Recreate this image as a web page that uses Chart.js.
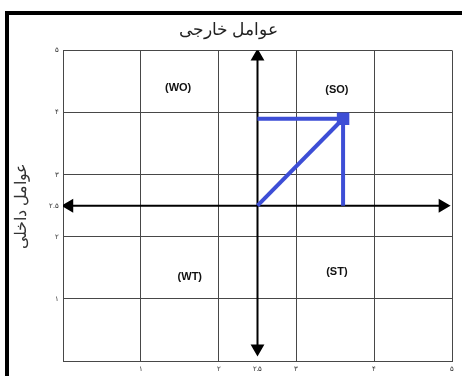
<!DOCTYPE html>
<html>
<head>
<meta charset="utf-8">
<script src="https://cdn.jsdelivr.net/npm/chart.js@4"></script>
<style>
  html, body { margin: 0; padding: 0; background: #fff; }
  #wrap { width: 462px; height: 376px; }
</style>
</head>
<body>
<div id="wrap"><canvas id="myChart" width="462" height="376"></canvas></div>
<script>
// tick values and their Persian labels
const tickValues = [0, 1, 2, 2.5, 3, 4, 5];
const tickLabels = ['', '۱', '۲', '۲.۵', '۳', '۴', '۵'];

// matrix scores
const midPoint = 2.5;
const internalScore = 3.6;   // IFE
const externalScore = 3.9;   // EFE

// quadrant names
const quadrants = ['(WO)', '(SO)', '(WT)', '(ST)'];

const blue = '#3d4ed6';

function labelFor(v) {
  const i = tickValues.indexOf(v);
  return i >= 0 ? tickLabels[i] : '';
}

const framePlugin = {
  id: 'frame',
  beforeDraw(chart) {
    const c = chart.ctx;
    c.save();
    c.fillStyle = '#fff';
    c.fillRect(0, 0, chart.width, chart.height);
    c.fillStyle = '#000';
    c.fillRect(5, 11, chart.width - 5, 4);
    c.fillRect(5, 11, 4, chart.height - 11);
    c.restore();
  }
};

// quadrant captions, placed in data space
const quadPos = [[1.48, 4.4], [3.52, 4.36], [1.63, 1.35], [3.52, 1.43]];
const quadPlugin = {
  id: 'quads',
  afterDatasetsDraw(chart) {
    const c = chart.ctx, xs = chart.scales.x, ys = chart.scales.y;
    c.save();
    c.font = 'bold 11px Arial, "Liberation Sans", sans-serif';
    c.fillStyle = '#111';
    c.textAlign = 'center';
    c.textBaseline = 'middle';
    quadrants.forEach((q, i) => {
      c.fillText(q, xs.getPixelForValue(quadPos[i][0]), ys.getPixelForValue(quadPos[i][1]));
    });
    c.restore();
  }
};

const gridColor = ctx => (ctx.tick && ctx.tick.value === midPoint) ? 'rgba(0,0,0,0)' : '#474747';

new Chart(document.getElementById('myChart'), {
  type: 'scatter',
  data: {
    datasets: [
      { // vertical double arrow
        data: [{x: midPoint, y: 0.2}, {x: midPoint, y: 4.9}],
        showLine: true,
        borderColor: '#000',
        borderWidth: 2,
        backgroundColor: '#000',
        pointStyle: 'triangle',
        pointRadius: 6,
        pointRotation: [180, 0],
        order: 2
      },
      { // horizontal double arrow
        data: [{x: 0.08, y: midPoint}, {x: 4.88, y: midPoint}],
        showLine: true,
        borderColor: '#000',
        borderWidth: 2,
        backgroundColor: '#000',
        pointStyle: 'triangle',
        pointRadius: 6,
        pointRotation: [270, 90],
        order: 2
      },
      { // diagonal to the position
        data: [{x: midPoint, y: midPoint}, {x: internalScore, y: externalScore}],
        showLine: true,
        borderColor: blue,
        borderWidth: 4,
        backgroundColor: blue,
        pointStyle: 'rect',
        pointRadius: [0, 6],
        order: 1
      },
      { // projection lines
        data: [{x: midPoint, y: externalScore}, {x: internalScore, y: externalScore}, {x: internalScore, y: midPoint}],
        showLine: true,
        borderColor: blue,
        borderWidth: 4,
        pointRadius: 0,
        borderCapStyle: 'butt',
        order: 1
      }
    ]
  },
  options: {
    responsive: false,
    animation: false,
    events: [],
    layout: { padding: { left: 5, right: 10, top: 0, bottom: 0 } },
    plugins: {
      legend: { display: false },
      tooltip: { enabled: false },
      title: {
        display: true,
        text: 'عوامل خارجی',
        color: '#222',
        font: { family: '"Times New Roman", "DejaVu Serif", serif', size: 17, weight: 'normal' },
        padding: { top: 20, bottom: 10 }
      }
    },
    scales: {
      x: {
        type: 'linear',
        min: 0,
        max: 5,
        afterBuildTicks: s => { s.ticks = tickValues.map(v => ({ value: v })); },
        afterFit: s => { s.height = 15; },
        grid: { color: gridColor, lineWidth: 1, drawTicks: false },
        border: { color: '#474747', width: 1 },
        ticks: {
          callback: v => labelFor(v),
          color: '#333',
          font: { size: 7 },
          padding: 4,
          maxRotation: 0,
          autoSkip: false
        }
      },
      y: {
        type: 'linear',
        min: 0,
        max: 5,
        afterBuildTicks: s => { s.ticks = tickValues.map(v => ({ value: v })); },
        afterFit: s => { s.width = 58; },
        grid: { color: gridColor, lineWidth: 1, drawTicks: false },
        border: { color: '#474747', width: 1 },
        title: {
          display: true,
          text: 'عوامل داخلی',
          color: '#333',
          font: { family: '"Times New Roman", "DejaVu Serif", serif', size: 16 },
          padding: { top: 7, bottom: 0 }
        },
        ticks: {
          callback: v => labelFor(v),
          color: '#333',
          font: { size: 7 },
          padding: 4,
          autoSkip: false
        }
      }
    }
  },
  plugins: [framePlugin, quadPlugin]
});
</script>
</body>
</html>
